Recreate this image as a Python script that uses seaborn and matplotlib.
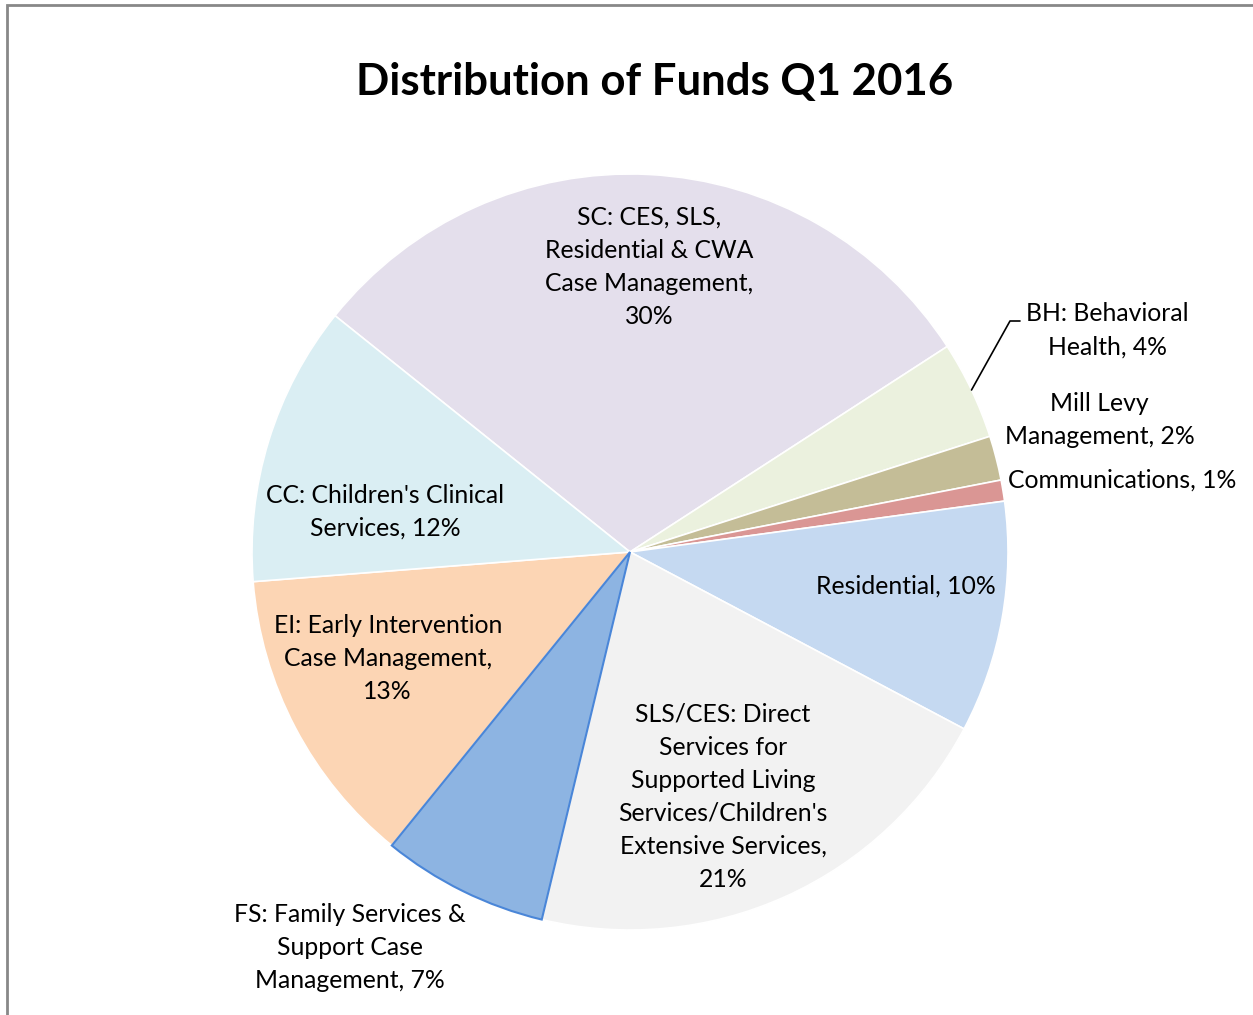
import numpy as np
import matplotlib.pyplot as plt
import seaborn as sns
from matplotlib.patches import Rectangle

# Dados (percentuais, ordem horária a partir de SC)
categorias = ["SC: CES, SLS,\nResidential & CWA\nCase Management,\n30%",
              "BH: Behavioral\nHealth, 4%",
              "Mill Levy\nManagement, 2%",
              "Communications, 1%",
              "Residential, 10%",
              "SLS/CES: Direct\nServices for\nSupported Living\nServices/Children's\nExtensive Services,\n21%",
              "FS: Family Services &\nSupport Case\nManagement, 7%",
              "EI: Early Intervention\nCase Management,\n13%",
              "CC: Children's Clinical\nServices, 12%"]
valores = [30.1, 4.2, 1.9, 0.9, 9.9, 21.0, 7.1, 12.9, 12.0]

cores = ['#E4DFEC', '#EBF1DE', '#C4BD97', '#DA9694', '#C5D9F1',
         '#F2F2F2', '#8DB4E2', '#FCD5B4', '#DAEEF3']
bordas = ['white'] * 9
bordas[6] = '#4A86D8'

# posição dos rótulos (ângulo em graus, raio relativo)
rotulo_pos = [(86.2, 0.756), (24.9, 1.392), (15.7, 1.29), (8.3, 1.315),
              (-7.0, 0.735), (-69.2, 0.693), (-125.3, 1.283),
              (-156.3, 0.70), (170.7, 0.657)]

sns.set_theme(style="white")
plt.rcParams['font.family'] = ['Lato', 'DejaVu Sans']

W, H = 1253, 1015
cx, cy, R = 630, 552, 378
fig = plt.figure(figsize=(W / 100, H / 100), dpi=100)
ax = fig.add_axes([0, 0, 1, 1])

wedges, _ = ax.pie(valores, colors=cores, startangle=141.3, counterclock=False,
                   radius=1, center=(0, 0), frame=True,
                   wedgeprops=dict(linewidth=1.2))
for w, b in zip(wedges, bordas):
    w.set_edgecolor(b)
    if b != 'white':
        w.set_linewidth(1.5)
        w.set_zorder(3)
ax.set_xlim(-cx / R, (W - cx) / R)
ax.set_ylim((cy - H) / R, cy / R)
ax.set_aspect('auto')
ax.axis('off')

for txt, (ang, r) in zip(categorias, rotulo_pos):
    a = np.deg2rad(ang)
    ax.text(r * np.cos(a), r * np.sin(a), txt, ha='center', va='center',
            fontsize=17.8, color='black', linespacing=1.53)

# linha guia do BH
w = wedges[1]
meio = np.deg2rad((w.theta1 + w.theta2) / 2)
x0, y0 = np.cos(meio), np.sin(meio)
ax.plot([x0, (1010 - cx) / R, (1020 - cx) / R],
        [y0, (cy - 321) / R, (cy - 321) / R], color='black', lw=1.2)

fig.text(655 / W, 1 - 82 / H, 'Distribution of Funds Q1 2016', ha='center',
         va='center', fontsize=31.5, fontweight='bold', color='black')

fig.patches.append(Rectangle((6.5 / W, -0.1), 1.2, 1 - 5 / H + 0.1,
                             transform=fig.transFigure, fill=False,
                             edgecolor='#888888', lw=2))

fig.savefig('out.png', dpi=100)
